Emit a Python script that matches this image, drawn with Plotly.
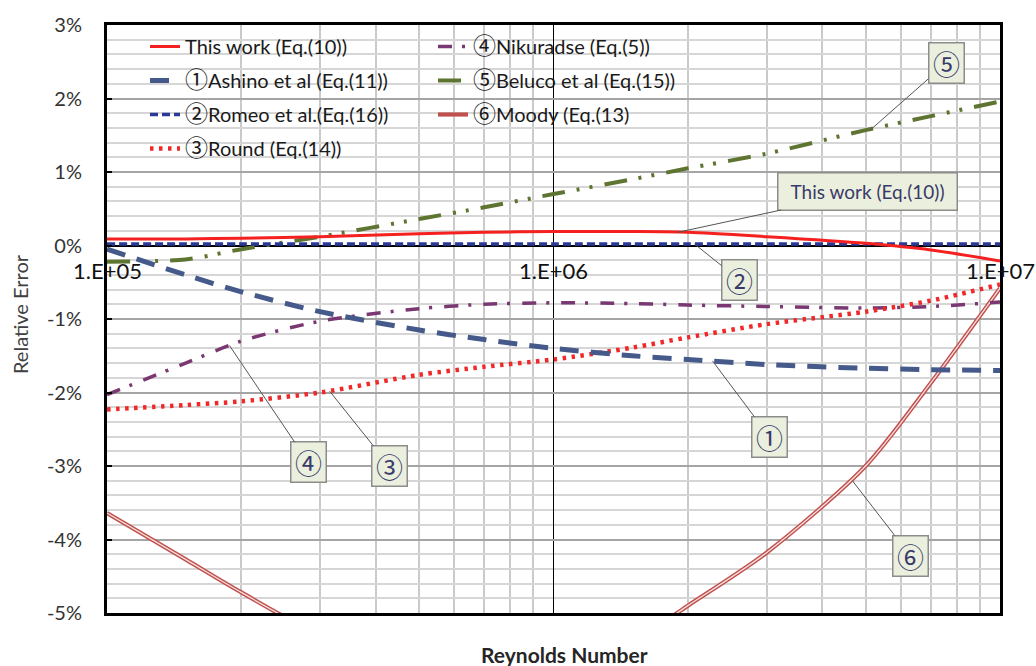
import numpy as np
import plotly.graph_objects as go

# ---------------- data ----------------
re_values = [1e5, 1.5e5, 2e5, 3e5, 5e5, 7e5, 1e6, 1.5e6, 2e6, 3e6, 5e6, 7e6, 1e7]

this_work = [0.09, 0.09, 0.10, 0.12, 0.16, 0.18, 0.19, 0.19, 0.18, 0.12, 0.03, -0.06, -0.21]
ashino    = [-0.05, -0.40, -0.63, -0.90, -1.15, -1.28, -1.40, -1.50, -1.55, -1.62, -1.67, -1.69, -1.70]
romeo     = [0.02, 0.02, 0.02, 0.02, 0.02, 0.02, 0.02, 0.02, 0.02, 0.02, 0.02, 0.02, 0.02]
round_eq  = [-2.23, -2.17, -2.12, -2.00, -1.76, -1.65, -1.55, -1.39, -1.25, -1.07, -0.90, -0.75, -0.53]
nikuradse = [-2.03, -1.60, -1.30, -1.03, -0.86, -0.80, -0.78, -0.79, -0.81, -0.83, -0.85, -0.83, -0.77]
beluco    = [-0.22, -0.19, -0.05, 0.12, 0.36, 0.52, 0.70, 0.90, 1.05, 1.25, 1.57, 1.76, 1.96]
moody     = [-3.64, -4.27, -4.72, -5.30, -5.75, -5.90, -5.85, -5.40, -4.90, -4.18, -3.00, -1.87, -0.58]

series_names = [
    "This work (Eq.(10))",
    "①Ashino et al (Eq.(11))",
    "②Romeo et al.(Eq.(16))",
    "③Round (Eq.(14))",
    "④Nikuradse (Eq.(5))",
    "⑤Beluco et al (Eq.(15))",
    "⑥Moody (Eq.(13)",
]

x_tick_vals = [1e5, 1e6, 1e7]
x_tick_labels = ["1.E+05", "1.E+06", "1.E+07"]
y_tick_vals = [-5, -4, -3, -2, -1, 0, 1, 2, 3]
y_tick_labels = ["-5%", "-4%", "-3%", "-2%", "-1%", "0%", "1%", "2%", "3%"]

# callouts: (label, Re of anchor point, value at anchor, box dx px, box dy px, box w, box h)
callouts = [
    ("⑤", 5.12e6, 1.57, 76, -67, 32, 37),
    ("This work (Eq.(10))", 1.9e6, 0.18, 190, -41, 176, 34),
    ("②", 2.07e6, 0.02, 45, 36, 32, 37),
    ("①", 2.27e6, -1.57, 57, 76, 32, 37),
    ("⑥", 4.67e6, -3.20, 58, 75, 32, 37),
    ("④", 1.88e5, -1.36, 79, 117, 32, 37),
    ("③", 3.15e5, -1.98, 60, 75, 32, 37),
]

FONT = "Lato, 'Noto Sans CJK JP', 'DejaVu Sans', sans-serif"
CJK = "'Noto Sans CJK JP', Lato, sans-serif"
CIRCLED = "①②③④⑤⑥"


def display_name(name):
    if name and name[0] in CIRCLED:
        return ("<span style=\"font-family:'Noto Sans CJK JP';font-size:23px\">"
                + name[0] + "</span>" + name[1:])
    return name


fig = go.Figure()


def add(y, idx, color, width, dash, legend):
    name = series_names[idx]
    fig.add_trace(go.Scatter(
        x=re_values, y=y, name=display_name(name), mode="lines",
        line=dict(color=color, width=width, dash=dash, shape="spline", smoothing=0.8),
        legend=legend, legendgroup=name, legendrank=100 + idx,
    ))


add(moody, 6, "#C0504D", 4.2, "solid", "legend2")
fig.add_trace(go.Scatter(
    x=re_values, y=moody, mode="lines", showlegend=False, hoverinfo="skip",
    line=dict(color="#F6E0DF", width=1.3, shape="spline", smoothing=0.8),
    legend="legend2", legendgroup=series_names[6],
))
add(nikuradse, 4, "#7A3872", 3.5, "14px,10px,3px,12px", "legend2")
add(beluco, 5, "#5E7431", 4, "23px,12px,3px,10px,3px,12px", "legend2")
add(round_eq, 3, "#F02828", 4.5, "3.5px,5.5px", "legend")
add(ashino, 1, "#455A8B", 5, "19px,12px", "legend")
add(romeo, 2, "#2B3A96", 3.5, "8px,4px", "legend")
add(this_work, 0, "#F52020", 3, "solid", "legend")

# white box behind the legend
plot_l, plot_r, plot_t, plot_b = 107, 1000, 21, 613


def px_x(p):
    return (p - plot_l) / (plot_r - plot_l)


def px_y(p):
    return (plot_b - p) / (plot_b - plot_t)


shape_kw = dict(type="rect", xref="paper", yref="paper",
                x0=px_x(125), x1=px_x(705), y0=px_y(160), y1=px_y(27),
                fillcolor="white", line=dict(width=0))
try:
    fig.add_shape(layer="between", **shape_kw)
except ValueError:
    fig.add_shape(layer="below", **shape_kw)

# x tick labels on the 0% line
for v, t in zip(x_tick_vals, x_tick_labels):
    fig.add_annotation(x=np.log10(v), y=0, xref="x", yref="y", text=t,
                       showarrow=False, xanchor="center", yanchor="middle", yshift=-25,
                       font=dict(family=FONT, size=22, color="#111111"))

# callout boxes
for label, rev, val, dx, dy, w, h in callouts:
    is_num = len(label) == 1
    fig.add_annotation(
        x=np.log10(rev), y=val, xref="x", yref="y", text=label,
        showarrow=True, arrowhead=0, arrowwidth=1, arrowcolor="#555555",
        ax=dx, ay=dy, axref="pixel", ayref="pixel", standoff=0,
        width=w, height=h, align="center", valign="middle",
        bgcolor="#EAF0DD", bordercolor="#8C8C8C", borderwidth=1.5, borderpad=1,
        font=dict(family=CJK if is_num else FONT, size=27 if is_num else 19, color="#3A3A6A"),
    )

# axis titles
fig.add_annotation(x=px_x(20), y=px_y(312), xref="paper", yref="paper",
                   text="Relative Error", textangle=-90, showarrow=False,
                   xanchor="center", yanchor="middle",
                   font=dict(family=FONT, size=20, color="#404040"))
fig.add_annotation(x=px_x(564), y=px_y(655), xref="paper", yref="paper",
                   text="<b>Reynolds Number</b>", showarrow=False,
                   xanchor="center", yanchor="middle",
                   font=dict(family=FONT, size=21, color="#262626"))

minor_x = [m * 10 ** e for e in (5, 6) for m in range(2, 10)]
minor_y = [round(-5 + 0.2 * i, 1) for i in range(41)]

fig.update_layout(
    width=1036, height=666,
    margin=dict(l=107, r=36, t=21, b=53, pad=0),
    paper_bgcolor="white", plot_bgcolor="white",
    font=dict(family=FONT, color="#262626"),
    showlegend=True,
    xaxis=dict(
        type="log", range=[5, 7], tickvals=x_tick_vals, showticklabels=False, ticks="",
        showgrid=True, gridcolor="#000000", gridwidth=1,
        minor=dict(tickvals=minor_x, showgrid=True, gridcolor="#CACACA", gridwidth=1.6, ticks=""),
        showline=True, linecolor="black", linewidth=3, mirror=True, zeroline=False,
    ),
    yaxis=dict(
        range=[-5, 3], tickvals=y_tick_vals, ticktext=y_tick_labels,
        ticks="inside", ticklen=5, tickwidth=2, tickcolor="black",
        ticklabelstandoff=18,
        tickfont=dict(family=FONT, size=20, color="#333333"),
        showgrid=True, gridcolor="#A5A5A5", gridwidth=1.6,
        minor=dict(tickvals=minor_y, showgrid=True, gridcolor="#D6D6D6", gridwidth=1.6, ticks=""),
        showline=True, linecolor="black", linewidth=3, mirror=True,
        zeroline=True, zerolinecolor="black", zerolinewidth=2,
    ),
    legend=dict(x=px_x(145), y=px_y(23), xanchor="left", yanchor="top",
                bgcolor="rgba(0,0,0,0)", borderwidth=0, tracegroupgap=5,
                font=dict(family=FONT, size=20, color="#1A1A1A")),
    legend2=dict(x=px_x(433), y=px_y(23), xanchor="left", yanchor="top",
                 bgcolor="rgba(0,0,0,0)", borderwidth=0, tracegroupgap=5,
                 font=dict(family=FONT, size=20, color="#1A1A1A")),
)

fig.write_html("out.html")
